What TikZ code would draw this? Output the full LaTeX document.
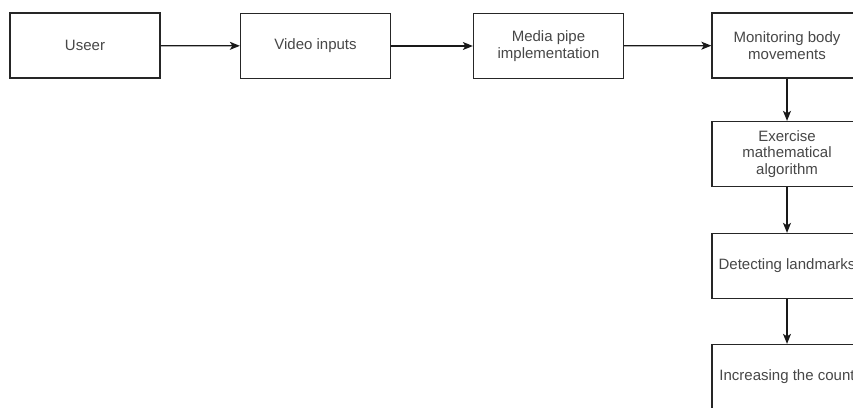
\documentclass[tikz,border=0pt]{standalone}
\usepackage{fontspec}
\setmainfont{Liberation Sans}
\usetikzlibrary{arrows.meta}

\begin{document}
\begin{tikzpicture}[x=1pt,y=-1pt]
    % Box and arrow styles
    \tikzset{
        stepbox/.style={draw=black!85, line width=1.3pt, fill=white,
            minimum width=150pt, minimum height=65pt, inner sep=2pt,
            align=center, text=black!72,
            font=\fontsize{15pt}{16.7pt}\selectfont},
        flow/.style={-{Stealth[length=10pt,width=8pt,inset=2.5pt]},
            line width=1.2pt, draw=black!90}
    }

    % Page frame (the right and bottom boxes run off the page)
    \useasboundingbox (0,0) rectangle (853,407);
    \clip (0,0) rectangle (853,407);

    % Top row
    \node[stepbox] (user) at (85,45.5) {Useer};
    \node[stepbox] (video) at (315.5,46) {Video inputs};
    \node[stepbox] (mediapipe) at (548.5,46) {Media pipe\\implementation};
    \node[stepbox] (monitor) at (787,45.5) {Monitoring body\\movements};

    % Right column
    \node[stepbox] (exercise) at (787,154) {Exercise\\mathematical\\algorithm};
    \node[stepbox] (landmarks) at (787,266) {Detecting landmarks};
    \node[stepbox] (counter) at (787,377) {Increasing the count};

    % Connectors
    \draw[flow] (user) -- (video);
    \draw[flow] (video) -- (mediapipe);
    \draw[flow] (mediapipe) -- (monitor);
    \draw[flow] (monitor) -- (exercise);
    \draw[flow] (exercise) -- (landmarks);
    \draw[flow] (landmarks) -- (counter);
\end{tikzpicture}
\end{document}
